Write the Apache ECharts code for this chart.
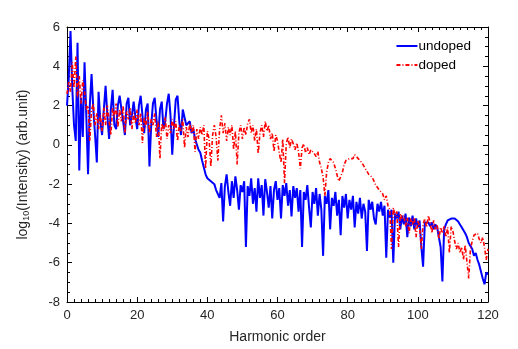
<!DOCTYPE html>
<html>
<head>
<meta charset="utf-8">
<script src="https://cdn.jsdelivr.net/npm/echarts@6/dist/echarts.min.js"></script>
<style>
  html, body { margin: 0; padding: 0; background: #fff; }
  #chart { width: 518px; height: 349px; }
</style>
</head>
<body>
<div id="chart"></div>
<script>
// harmonic spectra, sampled every half order from 0 to 120
const orderStep = 0.5
const xTicks = [0, 20, 40, 60, 80, 100, 120]
const yTicks = [-8, -6, -4, -2, 0, 2, 4, 6]

// undoped (blue, solid)
const undoped = [
  2.0, 3.4, 5.8, 2.9, 1.0, 0.2, 5.2, -1.3, 2.4, 0.4, 4.2, 1.5, -1.5, 2.0, 3.6, 1.8, 0.5, -0.9, 2.7, 1.2, 0.5,
  1.8, 3.0, 1.5, 0.3, 1.8, 2.8, 1.0, 0.8, 2.0, 2.5, 2.6, 1.2, 0.5, 2.1, 2.4, 1.0, 1.5, 2.2, 1.4, 0.8,
  2.0, 2.5, 1.5, 0.6, 1.8, 2.1, -1.1, 1.0, 2.1, 2.4, 1.3, 0.4, 1.8, 2.2, 0.8, 1.2, 2.1, 2.6, 1.5, -0.5,
  1.0, 2.3, 2.5, 1.2, 0.5, 1.8, 1.9, 1.0, 0.9, 1.2, 0.6, 0.8, 0.3, 0.2, -0.25, -0.4, -0.8, -0.9, -1.5, -1.7,
  -1.7, -1.85, -1.75, -2.0, -2.3, -2.2, -2.7, -1.95, -3.9, -2.1, -1.5, -2.4, -3.1, -1.85, -2.7, -1.6, -2.3, -3.3, -2.05, -2.4,
  -1.85, -5.2, -2.1, -2.6, -1.7, -3.0, -2.2, -3.4, -1.7, -2.7, -2.05, -3.6, -1.75, -2.4, -3.2, -2.1, -3.75, -2.3, -1.85, -2.8,
  -2.2, -3.75, -2.05, -2.6, -1.95, -3.1, -2.3, -3.65, -2.1, -2.7, -2.2, -3.4, -2.3, -5.2, -2.4, -2.8, -2.05, -3.2, -4.2, -2.4,
  -3.0, -2.2, -3.6, -2.5, -3.3, -5.65, -2.6, -3.0, -2.3, -4.3, -2.7, -3.1, -2.4, -3.6, -2.8, -4.6, -2.6, -3.2, -2.5, -3.75,
  -2.8, -3.3, -2.6, -4.2, -2.9, -3.5, -2.7, -3.75, -3.0, -3.4, -5.4, -2.8, -3.3, -2.9, -3.75, -4.05, -3.0, -3.4, -2.9, -3.6,
  -3.1, -5.75, -3.3, -3.7, -3.3, -6.0, -3.5, -3.75, -3.4, -4.3, -3.6, -4.05, -3.5, -4.7, -3.7, -4.15, -3.6, -4.3, -3.75, -4.2,
  -3.85, -5.2, -6.2, -3.95, -4.05, -3.95, -4.15, -3.95, -4.3, -4.05, -4.2, -4.15, -5.2, -6.95, -4.3, -4.05, -3.85, -3.95, -3.75, -3.85,
  -3.75, -3.8, -3.9, -4.05, -4.2, -4.3, -4.5, -4.7, -5.0, -4.9, -5.3, -5.65, -5.5, -5.85, -6.1, -6.0, -6.8, -7.1, -6.5, -6.6
]

// doped (red, dash-dot)
const doped = [
  2.6, 3.2, 2.7, 4.2, 2.9, 4.5, 2.4, 3.5, 2.1, 3.3, 2.7, 1.8, 2.0, 0.2, 1.8, 2.1, 1.0, 1.6, 0.8, 1.5, 0.7,
  1.9, 1.0, 2.0, 1.2, 0.5, 1.9, 1.4, 2.1, 0.9, 1.8, 1.2, 2.0, 0.6, 1.7, 1.3, 1.9, 0.8, 1.6, 1.1, 1.8,
  1.0, 1.6, 0.1, 1.4, 0.9, 1.7, 0.6, 1.3, 1.0, 1.6, 0.4, 1.2, -0.7, 1.1, 0.7, 1.4, 0.3, 1.0, 0.6, 1.3,
  0.8, 1.2, 0.2, 1.0, 0.7, 1.3, -0.15, 0.9, 0.4, 1.1, 0.6, 1.0, -0.35, 0.8, 0.3, 0.9, 0.5, 1.0, -1.2, 0.7,
  0.3, -1.1, 0.5, 1.0, 0.4, -0.8, 0.8, 1.5, 0.6, 1.1, 0.2, 0.9, 0.5, 1.0, -0.25, 0.7, -1.0, 0.6, 1.0, 0.3,
  0.9, 0.5, 1.1, 1.3, 0.6, 1.0, 0.2, 0.8, -0.45, 0.6, 1.0, 0.4, 1.2, 0.7, 1.0, 0.3, 0.6, -0.35, 0.5, 0.2,
  -0.4, -0.9, 0.3, -1.95, 0.05, 0.4, -0.15, 0.3, 0.05, -0.25, 0.1, -0.35, -1.2, -0.15, 0.05, -0.4, -0.15, -0.5, -0.25, -0.35,
  -0.45, -0.6, -0.35, -0.9, -1.2, -1.65, -2.6, -1.4, -0.9, -0.7, -0.8, -0.9, -1.2, -1.55, -1.85, -1.95, -1.4, -1.0, -0.8, -0.7,
  -0.7, -0.6, -0.7, -0.5, -0.6, -0.7, -0.8, -0.9, -1.0, -1.2, -1.3, -1.5, -1.4, -1.65, -1.85, -2.05, -1.95, -2.3, -2.2, -2.5,
  -2.8, -2.6, -3.1, -3.3, -5.3, -3.2, -3.6, -3.4, -5.2, -3.5, -3.75, -3.6, -4.15, -3.7, -4.5, -3.75, -4.05, -3.7, -4.7, -3.85,
  -4.15, -5.3, -4.05, -3.75, -4.2, -3.6, -3.95, -4.5, -3.85, -4.3, -4.05, -4.8, -4.2, -4.5, -4.15, -4.7, -4.2, -5.5, -4.15, -4.4,
  -4.9, -5.3, -5.0, -5.5, -5.2, -5.85, -5.1, -5.95, -6.8, -5.3, -4.9, -4.6, -4.7, -4.5, -4.8, -5.0, -4.7, -5.2, -5.85, -5.3
]

const toPairs = arr => arr.map((v, i) => [i * orderStep, v])

const font = 'Liberation Sans, Arial, sans-serif'
const textColor = '#262626'

const xFrame = {
  type: 'value',
  min: xTicks[0],
  max: xTicks[xTicks.length - 1],
  interval: 20,
  axisLine: { show: true, onZero: false, lineStyle: { color: '#000', width: 1 } },
  axisTick: { show: true, inside: true, length: 5, lineStyle: { color: '#000' } },
  minorTick: { show: true, splitNumber: 10, length: 3, lineStyle: { color: '#000' } },
  splitLine: { show: false }
}

const yFrame = {
  type: 'value',
  min: yTicks[0],
  max: yTicks[yTicks.length - 1],
  interval: 2,
  axisLine: { show: true, onZero: false, lineStyle: { color: '#000', width: 1 } },
  axisTick: { show: true, inside: true, length: 5, lineStyle: { color: '#000' } },
  minorTick: { show: true, splitNumber: 4, length: 3, lineStyle: { color: '#000' } },
  splitLine: { show: false }
}

const chart = echarts.init(document.getElementById('chart'))
chart.setOption({
  backgroundColor: '#fff',
  animation: false,
  grid: { left: 67, right: 30, top: 27, bottom: 45 },
  legend: {
    orient: 'vertical',
    right: 42,
    top: 34,
    itemWidth: 21,
    itemHeight: 10,
    itemGap: 5,
    itemStyle: { opacity: 0 },
    textStyle: { fontFamily: font, fontSize: 13.5, color: '#000', padding: [0, 0, 0, -4] },
    data: ['undoped', 'doped']
  },
  xAxis: [
    Object.assign({}, xFrame, {
      position: 'bottom',
      name: 'Harmonic order',
      nameLocation: 'middle',
      nameGap: 28,
      nameTextStyle: { fontFamily: font, fontSize: 14, color: textColor },
      axisLabel: { fontFamily: font, fontSize: 13, color: textColor, margin: 7 }
    }),
    Object.assign({}, xFrame, { position: 'top', axisLabel: { show: false } })
  ],
  yAxis: [
    Object.assign({}, yFrame, {
      position: 'left',
      name: '{t|log}{s|10}{t|(Intensity) (arb.unit)}',
      nameLocation: 'middle',
      nameGap: 36,
      nameTextStyle: {
        fontFamily: font,
        color: textColor,
        rich: {
          t: { fontFamily: font, fontSize: 14, color: textColor, lineHeight: 16 },
          s: { fontFamily: font, fontSize: 9, color: textColor, verticalAlign: 'bottom', lineHeight: 16, padding: [9, 0, 0, 0] }
        }
      },
      axisLabel: { fontFamily: font, fontSize: 13, color: textColor, margin: 7 }
    }),
    Object.assign({}, yFrame, { position: 'right', axisLabel: { show: false } })
  ],
  series: [
    {
      name: 'undoped',
      type: 'line',
      data: toPairs(undoped),
      showSymbol: false,
      lineStyle: { color: '#0000ff', width: 2 },
      itemStyle: { color: '#0000ff' },
      z: 2
    },
    {
      name: 'doped',
      type: 'line',
      data: toPairs(doped),
      showSymbol: false,
      lineStyle: { color: '#ff0000', width: 1.6, type: [4, 2, 1, 2] },
      itemStyle: { color: '#ff0000' },
      z: 3
    }
  ]
})
</script>
</body>
</html>
